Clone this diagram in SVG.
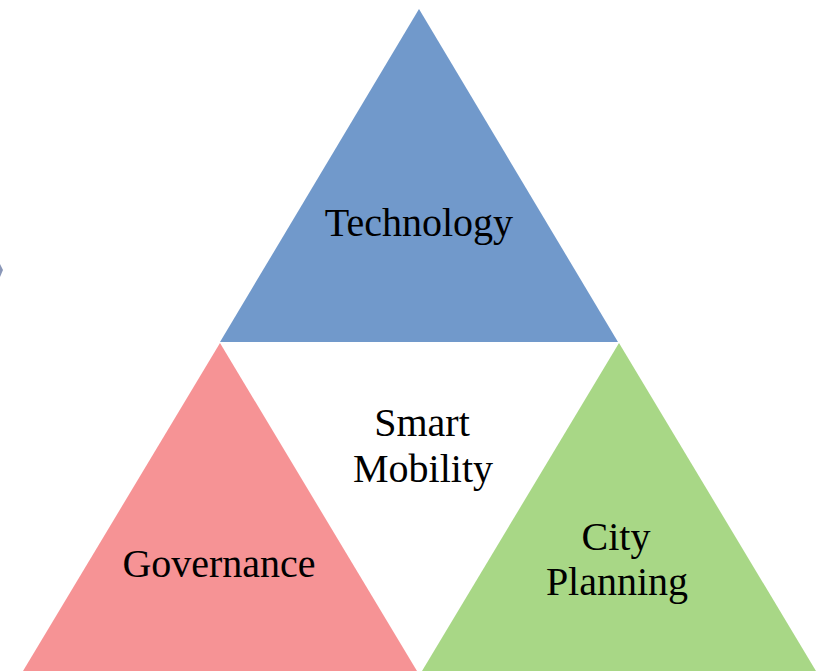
<svg xmlns="http://www.w3.org/2000/svg" width="823" height="671" viewBox="0 0 823 671">
  <style>
    .lbl { font-family: "Liberation Serif", "Times New Roman", serif; font-size: 40px; fill: #000; text-anchor: middle; }
  </style>
  <rect width="823" height="671" fill="#ffffff"/>
  <!-- small marker at left edge -->
  <polygon points="0,264 3,270 0,277" fill="#8a97b8"/>
  <g id="technology">
    <polygon points="419,9 220,342 618,342" fill="#7199cb"/>
    <text class="lbl" x="419" y="236">Technology</text>
  </g>
  <g id="governance">
    <polygon points="220,343 14,686 426,686" fill="#f69395"/>
    <text class="lbl" x="219" y="577">Governance</text>
  </g>
  <g id="city-planning">
    <polygon points="619,343 413,686 825,686" fill="#a8d786"/>
    <text class="lbl" x="616" y="550">City</text>
    <text class="lbl" x="617" y="595">Planning</text>
  </g>
  <g id="smart-mobility">
    <text class="lbl" x="422" y="436">Smart</text>
    <text class="lbl" x="423" y="482">Mobility</text>
  </g>
  <g id="connectors"></g>
</svg>
